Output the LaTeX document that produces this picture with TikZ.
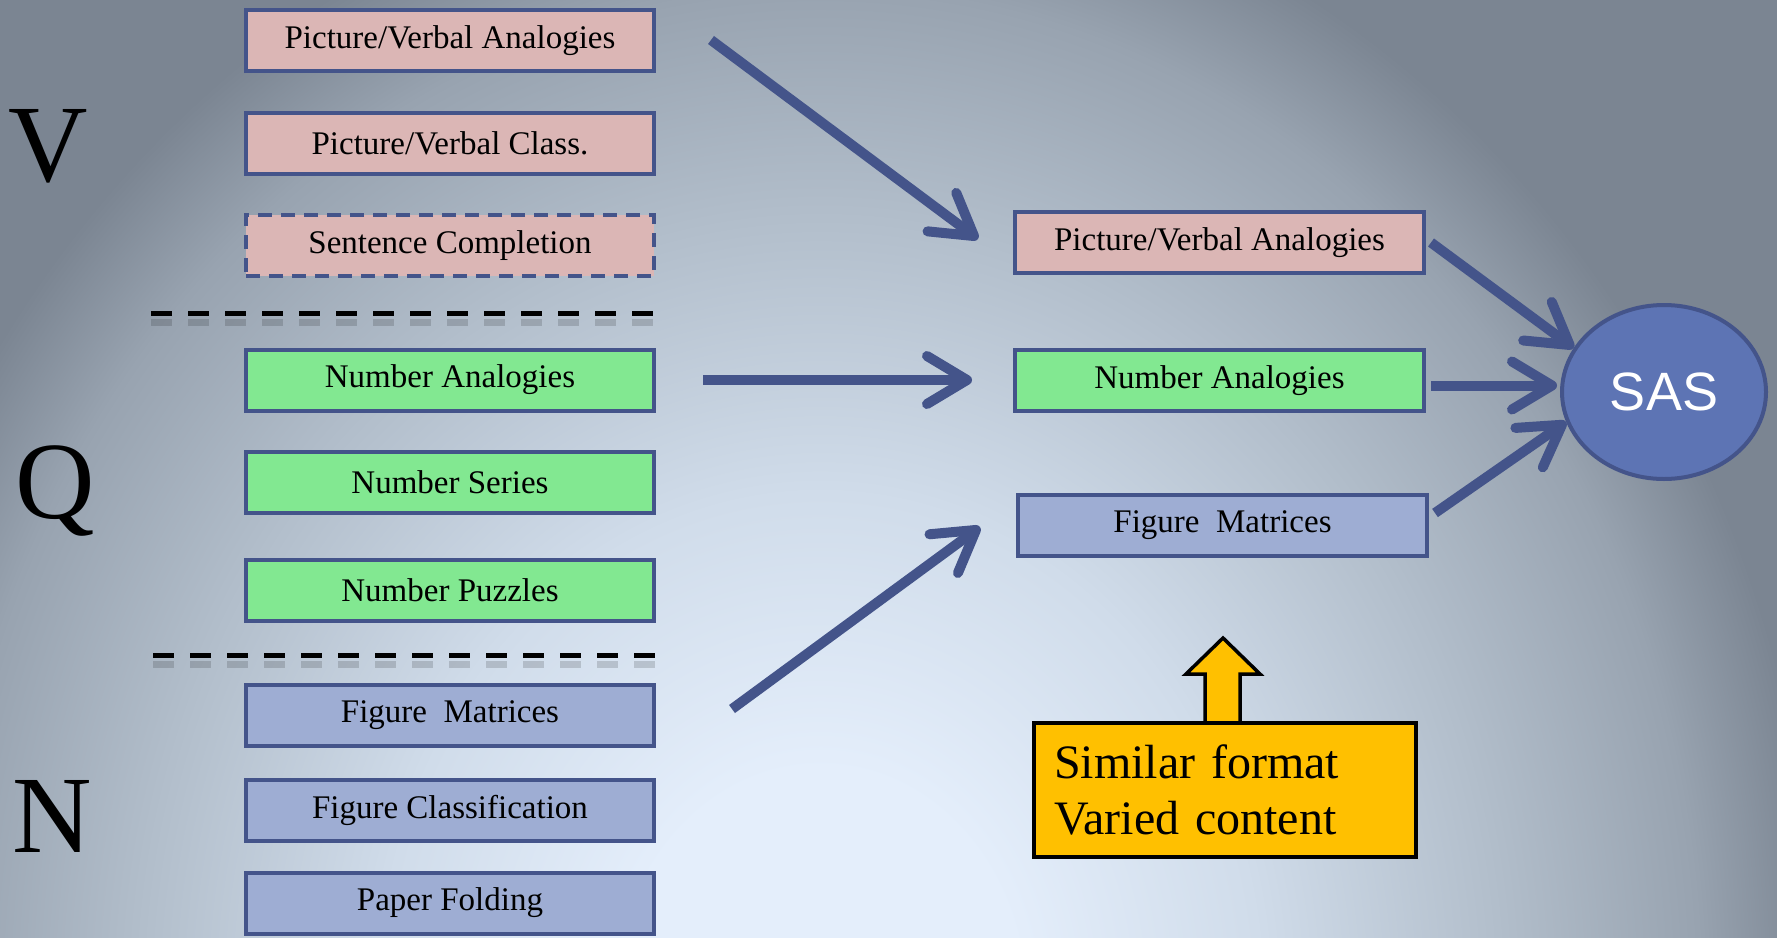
\documentclass[tikz,border=0pt]{standalone}
\usepackage{fontspec}
\setmainfont{Liberation Serif}
\newfontfamily\sasfont{Liberation Sans}
\usetikzlibrary{arrows.meta,shapes.geometric}
\definecolor{bord}{HTML}{44548A}
\definecolor{pinkf}{HTML}{DBB6B5}
\definecolor{greenf}{HTML}{82E891}
\definecolor{bluef}{HTML}{9EADD3}
\definecolor{sasf}{HTML}{5D74B4}
\definecolor{yel}{HTML}{FFC000}
\definecolor{bgouter}{HTML}{7B8592}
\definecolor{bgA}{HTML}{E4EEFB}
\definecolor{bgB}{HTML}{D0DCEA}
\definecolor{bgC}{HTML}{B2BECB}
\definecolor{bgD}{HTML}{98A3B0}
\pgfdeclareradialshading{bgshade}{\pgfpoint{0bp}{0bp}}{color(0bp)=(bgA); color(5bp)=(bgA); color(11bp)=(bgB); color(17bp)=(bgC); color(22bp)=(bgD); color(25bp)=(bgouter); color(50bp)=(bgouter)}
\tikzset{
  box/.style={draw=bord, line width=4pt, minimum width=408pt, minimum height=61pt, inner sep=0pt, font=\fontsize{33}{38}\selectfont},
  pinkbox/.style={box, fill=pinkf},
  greenbox/.style={box, fill=greenf},
  bluebox/.style={box, fill=bluef},
  arr/.style={draw=bord, line width=10pt, -{Straight Barb[length=40pt,width=48pt,round]}},
  sep/.style={draw=black, line width=5pt, dash pattern=on 21pt off 16pt},
  sepshadow/.style={draw=black, opacity=0.15, line width=7pt, dash pattern=on 21pt off 16pt},
  bigletter/.style={anchor=base, font=\fontsize{110}{110}\selectfont}
}
\begin{document}
\begin{tikzpicture}[x=1pt,y=-1pt]
\useasboundingbox (0,0) rectangle (1777,937);
% background
\fill[bgouter] (0,0) rectangle (1777,937);
\begin{scope}
\clip (0,0) rectangle (1777,937);
\shade[shading=bgshade] (820,1000) ellipse [x radius=1000pt, y radius=1150pt];
\end{scope}
% big letters
\node[bigletter] (lv) at (48,181) {V};
\node[bigletter] (lq) at (55,518) {Q};
\node[bigletter] (ln) at (52,852) {N};
% left boxes
\node[pinkbox] (l1) at (450,40.5) {Picture/Verbal Analogies};
\node[pinkbox] (l2) at (450,143) {Picture/Verbal Class.};
\node[pinkbox, dash pattern=on 14pt off 9pt] (l3) at (450,245.5) {Sentence Completion};
\node[greenbox] (l4) at (450,380) {Number Analogies};
\node[greenbox] (l5) at (450,482.5) {Number Series};
\node[greenbox] (l6) at (450,590.5) {Number Puzzles};
\node[bluebox] (l7) at (450,715) {Figure\ \ Matrices};
\node[bluebox] (l8) at (450,810) {Figure Classification};
\node[bluebox] (l9) at (450,903) {Paper Folding};
% separators
\draw[sepshadow] (151,322) -- (657,322);
\draw[sep] (151,313) -- (657,313);
\draw[sepshadow] (153,664) -- (660,664);
\draw[sep] (153,655) -- (660,655);
% right boxes
\node[pinkbox, minimum width=409pt] (r1) at (1219.5,242.5) {Picture/Verbal Analogies};
\node[greenbox, minimum width=409pt] (r2) at (1219.5,380.5) {Number Analogies};
\node[bluebox, minimum width=409pt] (r3) at (1222.5,525) {Figure\ \ Matrices};
% SAS
\node[ellipse, draw=bord, fill=sasf, line width=4pt, minimum width=204pt, minimum height=174pt, inner sep=0pt, text=white, font=\sasfont\fontsize{54}{60}\selectfont] (sas) at (1664,392) {SAS};
% arrows from left
\coordinate (a1s) at (711,40);
\coordinate (a1e) at (978,239);
\coordinate (a2s) at (703,380);
\coordinate (a2e) at (972,380);
\coordinate (a3s) at (732,709);
\coordinate (a3e) at (980,527);
\draw[arr] (a1s) -- (a1e);
\draw[arr] (a2s) -- (a2e);
\draw[arr] (a3s) -- (a3e);
% arrows to SAS
\draw[arr] ([xshift=5pt]r1.east) -- (sas.154);
\draw[arr] ([xshift=5pt,yshift=-5pt]r2.east) -- ([xshift=-3pt,yshift=-5pt]r2.east -| sas.west);
\draw[arr] ([xshift=6pt,yshift=12pt]r3.east) -- (sas.197);
% callout
\draw[black, fill=yel, line width=3.5pt, line join=miter] (1205,721) -- (1205,674) -- (1186,674) -- (1223,638) -- (1260,674) -- (1240,674) -- (1240,721);
\node[draw=black, fill=yel, line width=4pt, anchor=north west, minimum width=382pt, minimum height=134pt, inner xsep=20pt, inner ysep=0pt, text width=342pt, align=left, font=\fontsize{48}{56}\selectfont] (note) at (1032,721) {Similar format\\Varied content};
\end{tikzpicture}
\end{document}
